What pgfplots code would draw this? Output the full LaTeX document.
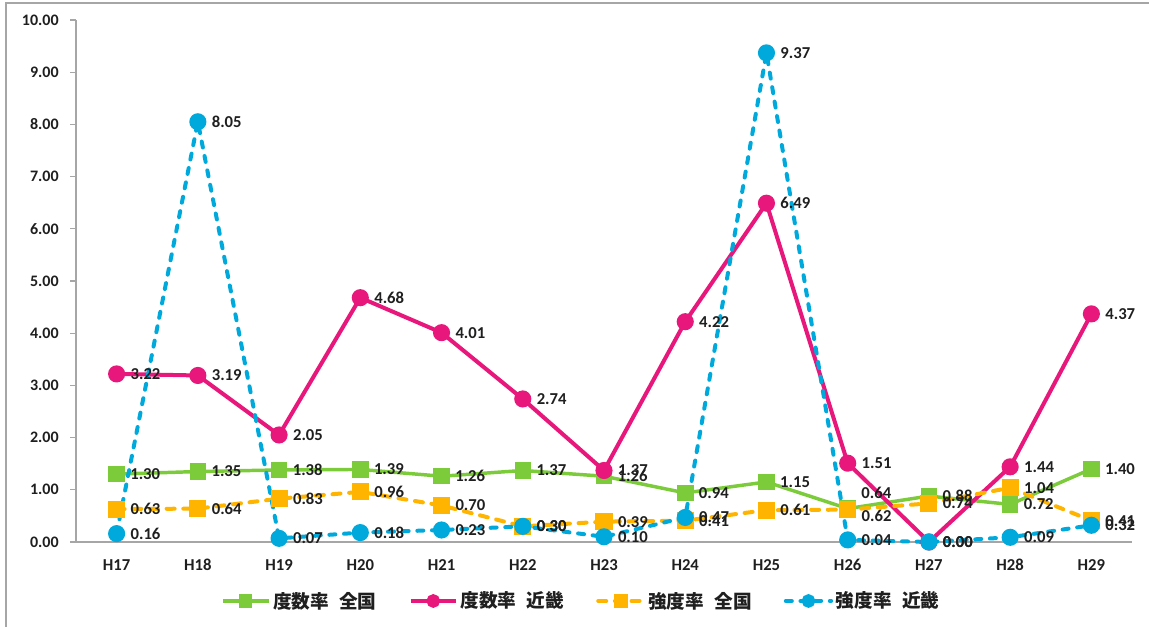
\documentclass[border=0pt]{standalone}
\usepackage{pgfplots}
\pgfplotsset{compat=1.18}
\usepackage{fontspec}
\setmainfont{Carlito}
\newfontfamily\cjk{Noto Sans CJK JP}
\definecolor{cgreen}{HTML}{7CCB3A}
\definecolor{cmag}{HTML}{E8177B}
\definecolor{corange}{HTML}{FFB400}
\definecolor{cblue}{HTML}{00A9DB}
\definecolor{axgray}{HTML}{A6A6A6}
\definecolor{txt}{HTML}{1F1F1F}
\begin{document}
\begin{tikzpicture}
\useasboundingbox (0pt,0pt) rectangle (861.75pt,470.25pt);
\draw[axgray, line width=1.5pt] (4.5pt,0pt) -- (4.5pt,468pt) -- (861.75pt,468pt);
\begin{axis}[
  at={(57pt,63.75pt)}, anchor=south west,
  scale only axis, width=792pt, height=391.5pt,
  clip=false,
  xmin=-0.5, xmax=12.5, ymin=0, ymax=10,
  axis x line*=bottom, axis y line*=left,
  axis line style={axgray, line width=1pt, -},
  xtick={0,...,12},
  xticklabels={H17,H18,H19,H20,H21,H22,H23,H24,H25,H26,H27,H28,H29},
  minor xtick={-0.5,0.5,...,12.5},
  ytick={0,1,...,10},
  tick align=outside,
  major tick length=4.5pt, minor tick length=4.5pt,
  xtick style={draw=none},
  minor x tick style={axgray, line width=1pt},
  ytick style={axgray, line width=1pt},
  yticklabel={\pgfmathprintnumber[fixed,fixed zerofill,precision=2]{\tick}},
  yticklabel style={font=\bfseries\fontsize{12}{14}\selectfont, text=txt, xshift=-5pt},
  xticklabel style={font=\bfseries\fontsize{12.5}{14}\selectfont, text=txt, yshift=-5pt},
  /pgf/number format/assume math mode=true,
  nodes near coords={\pgfmathprintnumber[fixed,fixed zerofill,precision=2]{\pgfplotspointmeta}},
  point meta=y,
  every node near coord/.append style={anchor=west, xshift=8pt, inner sep=1pt,
     font=\bfseries\fontsize{12.5}{14}\selectfont, text=txt, /pgf/number format/assume math mode=true},
  legend columns=4,
  legend style={draw=none, fill=none, at={(0.479,-0.113)}, anchor=center,
     font=\cjk\bfseries\fontsize{14}{16}\selectfont, text=txt,
     /tikz/every even column/.append style={column sep=22pt},
     inner sep=0pt},
  legend image code/.code={\draw[mark repeat=2,mark phase=2,#1,mark size=3.6pt] plot coordinates {(0pt,0pt) (17pt,0pt) (34pt,0pt)};},
]
\addplot[cgreen, line width=2.6pt, mark=square*, mark size=4.9pt, mark options={solid},
  visualization depends on={value \thisrow{dy} \as \dy},
  every node near coord/.append style={yshift=\dy pt}]
 table[x=x,y=y] {
x y dy
0 1.30 0
1 1.35 0
2 1.38 0
3 1.39 0
4 1.26 0
5 1.37 0
6 1.26 0
7 0.94 0
8 1.15 0
9 0.64 12
10 0.88 0
11 0.72 0
12 1.40 0
};
\addlegendentry{度数率\hspace{0.55em}全国}
\addplot[cmag, line width=3pt, mark=*, mark size=4.9pt, mark options={solid}]
 coordinates {(0,3.22)(1,3.19)(2,2.05)(3,4.68)(4,4.01)(5,2.74)(6,1.37)(7,4.22)(8,6.49)(9,1.51)(10,0.00)(11,1.44)(12,4.37)};
\addlegendentry{度数率\hspace{0.55em}近畿}
\addplot[corange, line width=3pt, line cap=round, dash pattern=on 6pt off 6.5pt, mark=square*, mark size=4.9pt, mark options={solid},
  visualization depends on={value \thisrow{dy} \as \dy},
  every node near coord/.append style={yshift=\dy pt}]
 table[x=x,y=y] {
x y dy
0 0.63 0
1 0.64 0
2 0.83 0
3 0.96 0
4 0.70 0
5 0.30 0
6 0.39 0
7 0.41 0
8 0.61 0
9 0.62 -5
10 0.74 0
11 1.04 0
12 0.41 0
};
\addlegendentry{強度率\hspace{0.55em}全国}
\addplot[cblue, line width=3pt, line cap=round, dash pattern=on 4.5pt off 6.5pt, mark=*, mark size=4.9pt, mark options={solid}]
 coordinates {(0,0.16)(1,8.05)(2,0.07)(3,0.18)(4,0.23)(5,0.30)(6,0.10)(7,0.47)(8,9.37)(9,0.04)(10,0.00)(11,0.09)(12,0.32)};
\addlegendentry{強度率\hspace{0.55em}近畿}
\end{axis}
\end{tikzpicture}
\end{document}
